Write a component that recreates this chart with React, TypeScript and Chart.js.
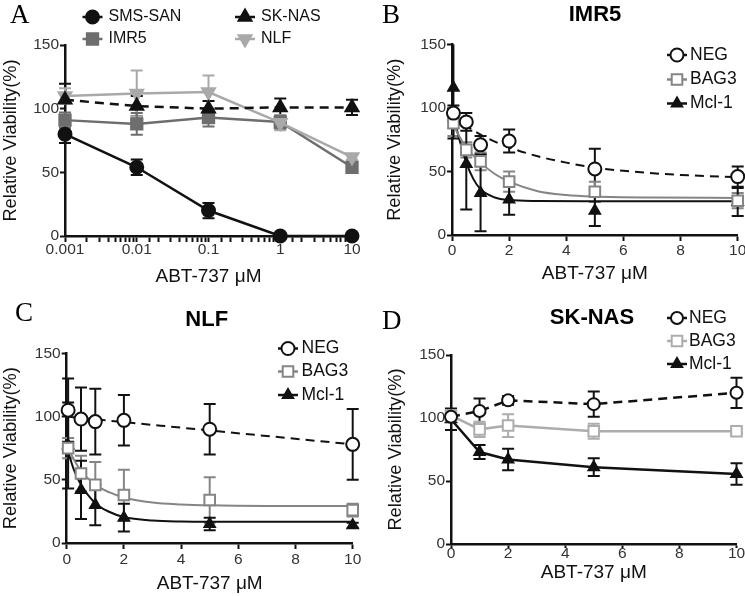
import React, { useEffect, useRef } from 'react';
import { Chart, registerables } from 'chart.js';
import { drawPoint } from 'chart.js/helpers';

Chart.register(...registerables);

const FONT = "'Liberation Sans', Arial, Helvetica, sans-serif";
const SERIF = "'Liberation Serif', 'Times New Roman', serif";

// ---------------- Data ----------------
// Panel A (log concentration)
const concA = [0.001, 0.01, 0.1, 1, 10];
const aSmsSan = [80, 54, 20, 0, 0];
const aSmsSanErr = [7, 6, 6, 0, 0];
const aImr5 = [91, 88, 93, 89.5, 54];
const aImr5Err = [6, 8.5, 7, 5, 2];
const aSkNas = [107, 102, 100, 101, 101];
const aSkNasErr = [12.5, 8, 6, 7, 6];
const aNlf = [110, 112, 113, 89, 62];
const aNlfErr = [6, 18, 13, 6, 2];

// Panel B (IMR5)
const concBC = [0.05, 0.5, 1, 2, 5, 10];
const bNeg = [96, 89, 71, 74, 52, 46];
const bNegErr = [6, 7, 7, 9, 16, 8];
const bBag3 = [88, 67, 58, 42, 34, 27];
const bBag3Err = [10, 6, 7, 8, 8, 6];
const bMcl1 = [116, 56, 33, 28, 19, 26];
const bMcl1Err = [40, 36, 30, 12, 12, 11];
const bNegFitX = [0, 0.5, 1, 1.5, 2, 3, 4, 5, 6, 8, 10];
const bNegFitY = [95, 86, 79, 73.5, 69, 62, 57, 53, 50.5, 47.3, 45.6];
const bBag3FitX = [0, 0.25, 0.5, 1, 1.5, 2, 3, 4, 5, 7, 10];
const bBag3FitY = [89, 78, 69, 57, 48, 42, 34.5, 31.5, 30.3, 29.5, 29.2];
const bMcl1FitX = [0, 0.25, 0.5, 0.75, 1, 1.5, 2, 3, 5, 10];
const bMcl1FitY = [99, 76, 57, 44, 36, 29.5, 27.5, 26.8, 26.6, 26.6];

// Panel C (NLF)
const cNeg = [105, 98, 96, 97, 90, 78];
const cNegErr = [25, 25, 26, 20, 20, 28];
const cBag3 = [75, 55, 46, 38, 34, 26];
const cBag3Err = [8, 14, 18, 20, 18, 5];
const cMcl1 = [77, 42, 30, 20, 15, 14];
const cMcl1Err = [34, 23, 16, 11, 5, 2];
const cNegFitX = [0, 10];
const cNegFitY = [100, 78];
const cBag3FitX = [0, 0.25, 0.5, 1, 1.5, 2, 3, 4, 5, 7, 10];
const cBag3FitY = [78, 66, 57, 46, 40, 36, 32, 30.5, 29.8, 29.3, 29.2];
const cMcl1FitX = [0, 0.25, 0.5, 1, 1.5, 2, 3, 4, 5, 7, 10];
const cMcl1FitY = [76, 58, 46, 31.5, 24.5, 20.5, 17.8, 17, 16.8, 16.8, 16.8];

// Panel D (SK-NAS)
const concD = [0, 1, 2, 5, 10];
const dNeg = [101, 105.5, 114, 111, 120];
const dNegErr = [4, 10, 3.5, 10, 12];
const dBag3 = [102, 91, 94, 89.5, 89.5];
const dBag3Err = [3, 6, 9, 6, 2];
const dMcl1 = [99, 73, 67, 61, 55.5];
const dMcl1Err = [8.5, 5.5, 8.5, 7, 8.5];

const yTickValues = [0, 50, 100, 150];
const linTicks = [0, 2, 4, 6, 8, 10];
const logMajorTicks = [0.001, 0.01, 0.1, 1, 10];

// ---------------- Styles ----------------
const BLACK = '#111111';
const GRAY_A = '#6e6e6e';
const LIGHT_A = '#a9a9a9';
const GRAY_BC = '#858585';
const LIGHT_D = '#adadad';
const DASH = [9, 6];

function pointDs(label: string, xs: number[], ys: number[], errs: number[], o: any) {
  return {
    label,
    data: xs.map((x, i) => ({ x, y: ys[i] })),
    errors: errs,
    borderColor: o.color,
    backgroundColor: o.fill,
    borderWidth: o.lineWidth ?? 2.5,
    borderDash: o.dash || [],
    showLine: o.showLine,
    tension: 0,
    pointStyle: o.style,
    pointRotation: o.rot || 0,
    pointRadius: o.radius,
    pointHoverRadius: o.radius,
    pointBorderWidth: o.pbw ?? 2,
    pointBackgroundColor: o.fill,
    pointBorderColor: o.color,
    clip: false,
  };
}

function curveDs(xs: number[], ys: number[], color: string, dash?: number[]) {
  return {
    label: '',
    data: xs.map((x, i) => ({ x, y: ys[i] })),
    borderColor: color,
    borderWidth: 2,
    borderDash: dash || [],
    pointRadius: 0,
    pointHoverRadius: 0,
    cubicInterpolationMode: 'monotone',
    fill: false,
    clip: false,
  };
}

const errorBarPlugin = {
  id: 'errorBars',
  beforeDatasetsDraw(chart: any) {
    const { ctx, chartArea, scales } = chart;
    ctx.save();
    ctx.beginPath();
    ctx.rect(chartArea.left - 20, chartArea.top, chartArea.right - chartArea.left + 40, chartArea.bottom - chartArea.top + 20);
    ctx.clip();
    const cap = 6;
    chart.data.datasets.forEach((ds: any) => {
      const errs = ds.errors;
      if (!errs) return;
      ctx.strokeStyle = ds.borderColor;
      ctx.lineWidth = 2;
      ctx.setLineDash([]);
      ds.data.forEach((p: any, j: number) => {
        const e = errs[j];
        if (!e) return;
        const x = scales.x.getPixelForValue(p.x);
        const y1 = scales.y.getPixelForValue(p.y + e);
        const y2 = scales.y.getPixelForValue(p.y - e);
        ctx.beginPath();
        ctx.moveTo(x, y1);
        ctx.lineTo(x, y2);
        ctx.moveTo(x - cap, y1);
        ctx.lineTo(x + cap, y1);
        ctx.moveTo(x - cap, y2);
        ctx.lineTo(x + cap, y2);
        ctx.stroke();
      });
    });
    ctx.restore();
  },
};

function makeOverlay(spec: any) {
  return {
    id: 'overlay',
    afterDraw(chart: any) {
      const ctx = chart.ctx;
      ctx.save();
      // panel letter
      ctx.fillStyle = '#000';
      ctx.font = `27px ${SERIF}`;
      ctx.textAlign = 'left';
      ctx.textBaseline = 'alphabetic';
      ctx.fillText(spec.letter.text, spec.letter.x, spec.letter.y);
      if (spec.title) {
        ctx.font = `bold 22px ${FONT}`;
        ctx.textAlign = 'center';
        ctx.textBaseline = 'middle';
        ctx.fillText(spec.title.text, spec.title.x, spec.title.y);
      }
      // legend
      spec.legend.forEach((it: any) => {
        const ds = chart.data.datasets[it.index];
        ctx.save();
        ctx.strokeStyle = ds.borderColor;
        ctx.lineWidth = 2.5;
        ctx.setLineDash(ds.borderDash || []);
        ctx.beginPath();
        ctx.moveTo(it.x - 10, it.y);
        ctx.lineTo(it.x + 10, it.y);
        ctx.stroke();
        ctx.setLineDash([]);
        ctx.fillStyle = ds.pointBackgroundColor;
        ctx.strokeStyle = ds.pointBorderColor;
        ctx.lineWidth = ds.pointBorderWidth;
        drawPoint(ctx, { pointStyle: ds.pointStyle, rotation: ds.pointRotation, radius: ds.pointRadius, borderWidth: ds.pointBorderWidth } as any, it.x, it.y);
        ctx.fillStyle = '#111';
        ctx.font = `${spec.legendFont}px ${FONT}`;
        ctx.textAlign = 'left';
        ctx.textBaseline = 'middle';
        ctx.fillText(ds.label, it.x + spec.legendGap, it.y);
        ctx.restore();
      });
      ctx.restore();
    },
  };
}

function buildConfig(spec: any) {
  const tickFont = { family: FONT, size: 15.5, lineHeight: 1 };
  return {
    type: 'line',
    data: { datasets: spec.datasets },
    options: {
      responsive: false,
      animation: false,
      devicePixelRatio: 1,
      events: [],
      layout: { padding: spec.pad },
      plugins: { legend: { display: false }, tooltip: { enabled: false } },
      scales: {
        x: {
          ...spec.xScale,
          position: 'bottom',
          ticks: {
            ...(spec.xTicks || {}),
            font: tickFont,
            color: '#333',
            padding: spec.xTickPad,
            maxRotation: 0,
            minRotation: 0,
            autoSkip: false,
          },
          grid: { drawOnChartArea: false, drawTicks: true, tickLength: spec.xTickLen, tickWidth: 2, tickColor: BLACK },
          border: { display: true, color: BLACK, width: 2.5 },
          title: { display: true, text: 'ABT-737 μM', font: { family: FONT, size: 19, lineHeight: 1.2 }, color: '#111', padding: 0 },
          afterFit: (s: any) => { s.height = spec.xH; },
        },
        y: {
          type: 'linear',
          min: 0,
          max: 150,
          position: 'left',
          afterBuildTicks: (s: any) => { s.ticks = yTickValues.map((v) => ({ value: v })); },
          ticks: { font: tickFont, color: '#333', padding: 1 },
          grid: { drawOnChartArea: false, drawTicks: true, tickLength: 5, tickWidth: 2, tickColor: BLACK },
          border: { display: true, color: BLACK, width: 2.5 },
          title: { display: true, text: 'Relative Viability(%)', font: { family: FONT, size: 18.3, lineHeight: 1.2 }, color: '#111', padding: 0 },
          afterFit: (s: any) => { s.width = spec.yW; },
        },
      },
    },
    plugins: [errorBarPlugin, makeOverlay(spec)],
  } as any;
}

const linX = {
  type: 'linear',
  min: 0,
  max: 10,
  afterBuildTicks: (s: any) => { s.ticks = linTicks.map((v) => ({ value: v })); },
};

const specs: any[] = [
  {
    left: 0, top: 0, w: 372, h: 298,
    pad: { left: 0, top: 45, right: 20, bottom: 9.6 },
    yW: 65, xH: 52.4, xTickLen: 6, xTickPad: 0,
    xScale: { type: 'logarithmic', min: 0.001, max: 10 },
    xTicks: {
      callback: (v: any) => {
        const n = Number(v);
        const l = Math.log10(n);
        return Math.abs(l - Math.round(l)) < 1e-6 && logMajorTicks.some((m) => Math.abs(m - n) < 1e-9) ? String(n) : '';
      },
    },
    datasets: [
      pointDs('SMS-SAN', concA, aSmsSan, aSmsSanErr, { color: BLACK, fill: BLACK, style: 'circle', radius: 6.5, showLine: true }),
      pointDs('SK-NAS', concA, aSkNas, aSkNasErr, { color: BLACK, fill: BLACK, style: 'triangle', radius: 7.5, showLine: true, dash: DASH }),
      pointDs('NLF', concA, aNlf, aNlfErr, { color: LIGHT_A, fill: LIGHT_A, style: 'triangle', rot: 180, radius: 7.5, showLine: true }),
      pointDs('IMR5', concA, aImr5, aImr5Err, { color: GRAY_A, fill: GRAY_A, style: 'rect', radius: 8, showLine: true }),
    ],
    legend: [
      { index: 0, x: 92.5, y: 17 },
      { index: 3, x: 92.5, y: 39 },
      { index: 1, x: 245, y: 17 },
      { index: 2, x: 245, y: 39 },
    ],
    legendFont: 16, legendGap: 16,
    letter: { text: 'A', x: 10, y: 23 },
  },
  {
    left: 372, top: 0, w: 390, h: 298,
    pad: { left: 11.7, top: 44.5, right: 24.3, bottom: 13.3 },
    yW: 68.3, xH: 49.7, xTickLen: 6, xTickPad: 1.5,
    xScale: linX,
    datasets: [
      pointDs('NEG', concBC, bNeg, bNegErr, { color: BLACK, fill: '#fff', style: 'circle', radius: 6.5, showLine: false, dash: DASH }),
      pointDs('BAG3', concBC, bBag3, bBag3Err, { color: GRAY_BC, fill: '#fff', style: 'rect', radius: 7.5, showLine: false }),
      pointDs('Mcl-1', concBC, bMcl1, bMcl1Err, { color: BLACK, fill: BLACK, style: 'triangle', radius: 6, showLine: false }),
      curveDs(bNegFitX, bNegFitY, BLACK, DASH),
      curveDs(bBag3FitX, bBag3FitY, GRAY_BC),
      curveDs(bMcl1FitX, bMcl1FitY, BLACK),
    ],
    legend: [
      { index: 0, x: 305, y: 55 },
      { index: 1, x: 305, y: 79.5 },
      { index: 2, x: 305, y: 103.5 },
    ],
    legendFont: 17.5, legendGap: 13,
    letter: { text: 'B', x: 10, y: 23.3 },
    title: { text: 'IMR5', x: 223, y: 15 },
  },
  {
    left: 0, top: 298, w: 372, h: 298,
    pad: { left: 0, top: 55.3, right: 19.3, bottom: 0.6 },
    yW: 66.7, xH: 52.4, xTickLen: 6, xTickPad: 2.5,
    xScale: linX,
    datasets: [
      pointDs('NEG', concBC, cNeg, cNegErr, { color: BLACK, fill: '#fff', style: 'circle', radius: 6.5, showLine: false, dash: DASH }),
      pointDs('BAG3', concBC, cBag3, cBag3Err, { color: GRAY_BC, fill: '#fff', style: 'rect', radius: 7.5, showLine: false }),
      pointDs('Mcl-1', concBC, cMcl1, cMcl1Err, { color: BLACK, fill: BLACK, style: 'triangle', radius: 6, showLine: false }),
      curveDs(cNegFitX, cNegFitY, BLACK, DASH),
      curveDs(cBag3FitX, cBag3FitY, GRAY_BC),
      curveDs(cMcl1FitX, cMcl1FitY, BLACK),
    ],
    legend: [
      { index: 0, x: 288, y: 50.5 },
      { index: 1, x: 288, y: 73.5 },
      { index: 2, x: 288, y: 97 },
    ],
    legendFont: 17.5, legendGap: 13.5,
    letter: { text: 'C', x: 15, y: 23 },
    title: { text: 'NLF', x: 206.7, y: 22 },
  },
  {
    left: 372, top: 298, w: 390, h: 298,
    pad: { left: 13.2, top: 57, right: 25.5, bottom: 11.6 },
    yW: 65.8, xH: 40.4, xTickLen: 4, xTickPad: -2,
    xScale: linX,
    datasets: [
      pointDs('NEG', concD, dNeg, dNegErr, { color: BLACK, fill: '#fff', style: 'circle', radius: 6, showLine: true, dash: DASH }),
      pointDs('BAG3', concD, dBag3, dBag3Err, { color: LIGHT_D, fill: '#fff', style: 'rect', radius: 7.5, showLine: true }),
      pointDs('Mcl-1', concD, dMcl1, dMcl1Err, { color: BLACK, fill: BLACK, style: 'triangle', radius: 6, showLine: true }),
    ],
    legend: [
      { index: 0, x: 305, y: 20 },
      { index: 1, x: 305, y: 43 },
      { index: 2, x: 305, y: 66 },
    ],
    legendFont: 17.5, legendGap: 12,
    letter: { text: 'D', x: 10, y: 31.3 },
    title: { text: 'SK-NAS', x: 220, y: 19.7 },
  },
];

function Panel({ spec }: { spec: any }) {
  const ref = useRef<HTMLCanvasElement>(null);
  useEffect(() => {
    const chart = new Chart(ref.current as HTMLCanvasElement, buildConfig(spec));
    return () => chart.destroy();
  }, [spec]);
  return (
    <canvas
      ref={ref}
      width={spec.w}
      height={spec.h}
      style={{ position: 'absolute', left: spec.left, top: spec.top, width: spec.w, height: spec.h, display: 'block' }}
    />
  );
}

export default function App() {
  return (
    <div style={{ position: 'fixed', left: 0, top: 0, width: 745, height: 596, overflow: 'hidden', background: '#fff' }}>
      {specs.map((s, i) => (
        <Panel key={i} spec={s} />
      ))}
    </div>
  );
}
